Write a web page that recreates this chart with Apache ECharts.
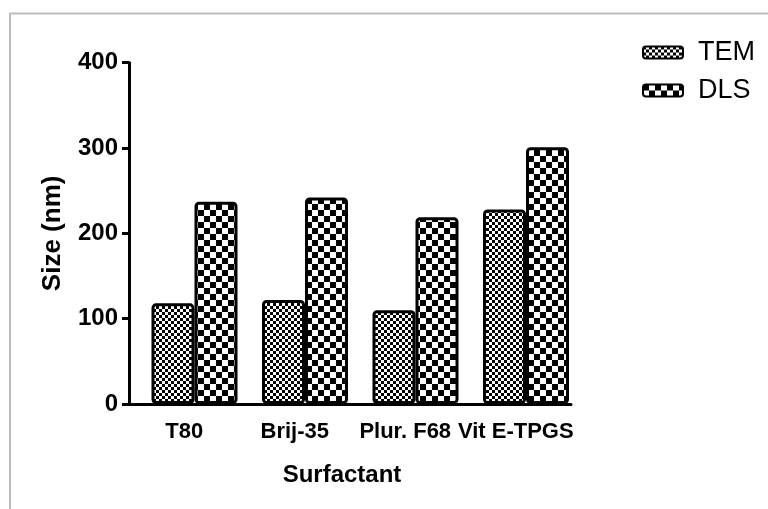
<!DOCTYPE html>
<html>
<head>
<meta charset="utf-8">
<script src="https://cdn.jsdelivr.net/npm/echarts@6/dist/echarts.min.js"></script>
<style>
html,body{margin:0;padding:0;background:#fff;}
#c{width:768px;height:509px;}
</style>
</head>
<body>
<div id="c"></div>
<script>
const categories = ['T80', 'Brij-35', 'Plur. F68', 'Vit E-TPGS'];
const temValues = [118, 122, 110, 228];
const dlsValues = [237, 242, 219, 301];
const yTicks = [0, 100, 200, 300, 400];

function checker(cell) {
  const c = document.createElement('canvas');
  c.width = cell * 2; c.height = cell * 2;
  const g = c.getContext('2d');
  g.fillStyle = '#fff'; g.fillRect(0, 0, cell * 2, cell * 2);
  g.fillStyle = '#000';
  g.fillRect(0, 0, cell, cell);
  g.fillRect(cell, cell, cell, cell);
  return c;
}

const chart = echarts.init(document.getElementById('c'), null, {renderer: 'canvas'});
const font = 'Liberation Sans, Arial, sans-serif';
chart.setOption({
  animation: false,
  backgroundColor: '#fff',
  graphic: [{
    type: 'polyline',
    shape: {points: [[10, 509], [10, 13.5], [768, 13.5]]},
    style: {stroke: '#bdbdbd', lineWidth: 2, fill: null}
  }],
  grid: {left: 129, right: 197, top: 62.7, bottom: 105},
  legend: {
    left: 637, top: 34, orient: 'vertical',
    itemWidth: 40, itemHeight: 12, itemGap: 11,
    icon: 'roundRect',
    textStyle: {fontFamily: font, fontSize: 27, color: '#000', padding: [6, 0, 0, 10]},
    data: ['TEM', 'DLS']
  },
  xAxis: {
    type: 'category', data: categories,
    name: 'Surfactant', nameLocation: 'middle', nameGap: 59,
    nameTextStyle: {fontFamily: font, fontSize: 24, fontWeight: 'bold', color: '#000', padding: [0, 16, 0, 0]},
    axisLine: {lineStyle: {color: '#000', width: 3}},
    axisTick: {alignWithLabel: true, length: 7, lineStyle: {color: '#000', width: 3}},
    axisLabel: {interval: 0, fontFamily: font, fontSize: 22, fontWeight: 'bold', color: '#000', margin: 17}
  },
  yAxis: {
    type: 'value', min: 0, max: 400, interval: 100,
    name: 'Size (nm)', nameLocation: 'middle', nameGap: 63,
    nameTextStyle: {fontFamily: font, fontSize: 26, fontWeight: 'bold', color: '#000'},
    axisLine: {show: true, lineStyle: {color: '#000', width: 3}},
    axisTick: {show: true, length: 7, lineStyle: {color: '#000', width: 3}},
    axisLabel: {fontFamily: font, fontSize: 24, fontWeight: 'bold', color: '#000', margin: 11,
      formatter: v => yTicks.includes(v) ? String(v) : ''},
    splitLine: {show: false}
  },
  series: [
    {
      name: 'spacer', type: 'bar', data: [], barWidth: 20.5, barGap: '0%',
      itemStyle: {color: 'transparent'}, silent: true
    },
    {
      name: 'TEM', type: 'bar', data: temValues, barWidth: 43, barGap: '0%',
      itemStyle: {color: {image: checker(3), repeat: 'repeat'}, borderColor: '#000', borderWidth: 3, borderRadius: 3}
    },
    {
      name: 'DLS', type: 'bar', data: dlsValues, barWidth: 43, barGap: '0%',
      itemStyle: {color: {image: checker(6), repeat: 'repeat'}, borderColor: '#000', borderWidth: 3, borderRadius: 3}
    }
  ]
});
</script>
</body>
</html>
